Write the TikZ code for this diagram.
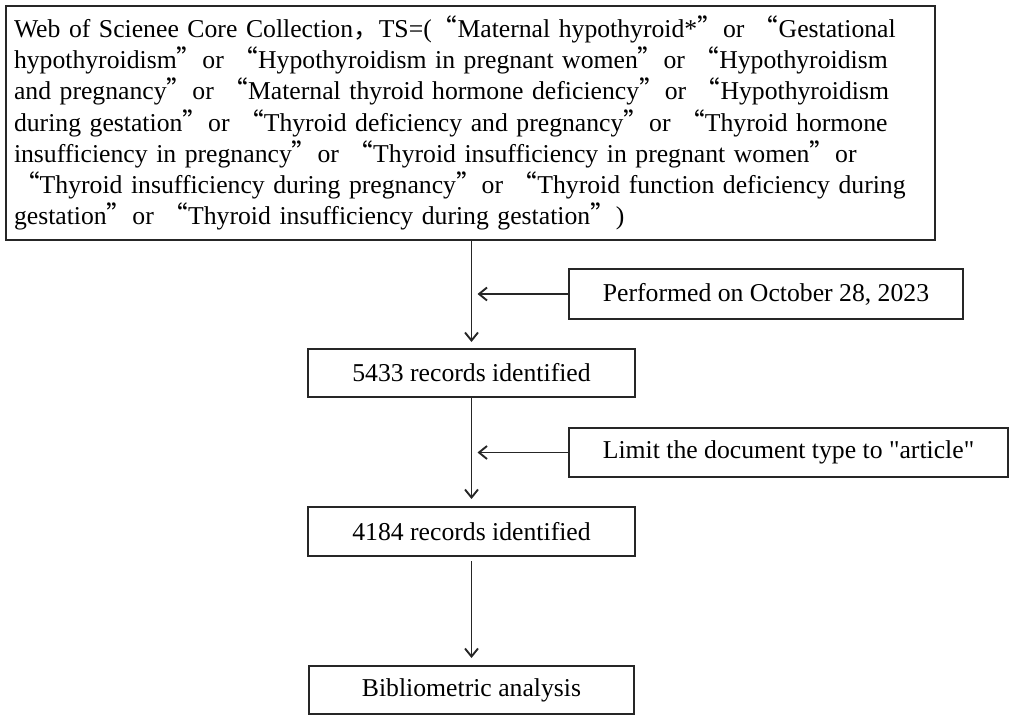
\documentclass[tikz,border=0pt]{standalone}
\usepackage{fontspec}
\setmainfont{Liberation Serif}[Ligatures=TeXOff]
\newfontfamily\cjkfont{Noto Sans CJK SC}
\newcommand\myoq{{\cjkfont “}}
\newcommand\mycq{{\cjkfont ”}}
\newcommand\mycomma{{\cjkfont ，}}
\usetikzlibrary{arrows.meta}
\begin{document}
\begin{tikzpicture}[x=1pt,y=-1pt,
  font=\fontsize{25.7}{31.2}\selectfont,
  box/.style={draw=black!85, line width=2pt, inner sep=0pt, align=center},
  arr/.style={-{Straight Barb[length=8pt,width=13pt]}, line width=1.9pt, black!85}]
\useasboundingbox (0,0) rectangle (1016,722);
\node[box, minimum width=929pt, minimum height=234pt, text width=913pt, align=left] (q) at (470.5,123) {%
Web of Scienee Core Collection\mycomma TS=(\myoq Maternal hypothyroid*\mycq or \myoq Gestational\\
hypothyroidism\mycq or \myoq Hypothyroidism in pregnant women\mycq or \myoq Hypothyroidism\\
and pregnancy\mycq or \myoq Maternal thyroid hormone deficiency\mycq or \myoq Hypothyroidism\\
during gestation\mycq or \myoq Thyroid deficiency and pregnancy\mycq or \myoq Thyroid hormone\\
insufficiency in pregnancy\mycq or \myoq Thyroid insufficiency in pregnant women\mycq or\\
\myoq Thyroid insufficiency during pregnancy\mycq or \myoq Thyroid function deficiency during\\
gestation\mycq or \myoq Thyroid insufficiency during gestation\mycq)};
\node[box, minimum width=394pt, minimum height=50pt] (p) at (766,294) {Performed on October 28, 2023};
\node[box, minimum width=327pt, minimum height=48pt] (r1) at (471.5,373) {5433 records identified};
\node[box, minimum width=439pt, minimum height=49pt] (l) at (788.5,452.5) {Limit the document type to "article"};
\node[box, minimum width=327pt, minimum height=49pt] (r2) at (471.5,531.5) {4184 records identified};
\node[box, minimum width=325pt, minimum height=48pt] (b) at (471.5,690) {Bibliometric analysis};
\coordinate (c1) at (r1.north |- p.west);
\coordinate (c2) at (r2.north |- l.west);
\draw[arr, shorten >=6pt] (q.south -| r1.north) -- (r1.north);
\draw[arr, shorten >=6pt] (p.west) -- (c1);
\draw[arr, shorten >=7pt] (r1.south) -- (r2.north);
\draw[arr, shorten >=6pt] (l.west) -- (c2);
\draw[arr, shorten <=4pt, shorten >=7pt] (r2.south) -- (b.north);
\end{tikzpicture}
\end{document}
